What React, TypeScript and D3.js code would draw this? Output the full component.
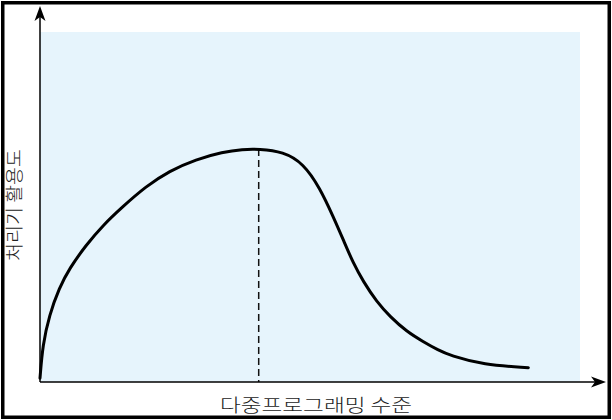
import React from "react";
import * as d3 from "d3";

const multiprogLevel = [0, 0.5, 1.72, 3.57, 5.43, 8.52, 11.61, 15.31, 19.63, 23.94, 28.89, 33.83, 37.54, 40.5, 45.06, 48.76, 51.85, 54.31, 56.17, 58.02, 59.87, 62.35, 64.81, 67.91, 70.98, 73.76, 75.93, 82.09, 90.43];
const utilization = [1.1, 10.6, 19.1, 26.9, 32.4, 39.1, 44.7, 50.1, 55.9, 60.3, 63.6, 65.7, 66.5, 66.6, 65.8, 62.5, 55.4, 47.2, 40.6, 33.9, 28.7, 22.9, 18.7, 14.4, 11.5, 9.1, 7.6, 4.9, 4.1];
const peakLevel = 40.5;
const xLabel = "다중프로그래밍 수준";
const yLabel = "처리기 활용도";

export default function App() {
  const x = d3.scaleLinear().domain([0, 100]).range([40, 580]);
  const y = d3.scaleLinear().domain([0, 100]).range([382, 32]);
  const pts: [number, number][] = multiprogLevel.map((v, i) => [v, utilization[i]]);
  const line = d3
    .line<[number, number]>()
    .x((d) => x(d[0]))
    .y((d) => y(d[1]))
    .curve(d3.curveBasis);
  const peakIdx = multiprogLevel.indexOf(peakLevel);
  const peakVal = utilization[peakIdx];
  const font = "'Noto Sans CJK KR', 'Noto Sans', sans-serif";
  return (
    <div style={{ position: "fixed", left: 0, top: 0 }}>
      <svg width={612} height={420} style={{ display: "block" }}>
        <rect x={0} y={0} width={612} height={420} fill="#ffffff" />
        <rect x={x(0)} y={y(100)} width={x(100) - x(0)} height={y(0) - y(100)} fill="#e6f4fc" />
        <line x1={x(peakLevel)} x2={x(peakLevel)} y1={y(peakVal)} y2={y(0)} stroke="#111" strokeWidth={1.5} strokeDasharray="7,4" />
        <path d={line(pts) || ""} fill="none" stroke="#000" strokeWidth={3} strokeLinejoin="round" strokeLinecap="round" />
        <line x1={x(0)} x2={x(0)} y1={y(0)} y2={14} stroke="#000" strokeWidth={1.5} />
        <line x1={x(0)} x2={598} y1={y(0)} y2={y(0)} stroke="#000" strokeWidth={1.5} />
        <path d={`M${x(0)},6 L${x(0) - 5.5},21 L${x(0)},17 L${x(0) + 5.5},21 Z`} fill="#000" />
        <path d={`M606,${y(0)} L591,${y(0) - 5.5} L595,${y(0)} L591,${y(0) + 5.5} Z`} fill="#000" />
        <text x={316} y={412} textAnchor="middle" fontFamily={font} fontSize={18} fontWeight={300} fill="#222" textLength={192} lengthAdjust="spacingAndGlyphs">
          {xLabel}
        </text>
        <text transform="translate(21,205) rotate(-90)" textAnchor="middle" fontFamily={font} fontSize={18} fontWeight={300} fill="#222" textLength={112} lengthAdjust="spacingAndGlyphs">
          {yLabel}
        </text>
        <rect x={2.75} y={2.75} width={606.5} height={414.5} fill="none" stroke="#000" strokeWidth={3.5} />
      </svg>
    </div>
  );
}
